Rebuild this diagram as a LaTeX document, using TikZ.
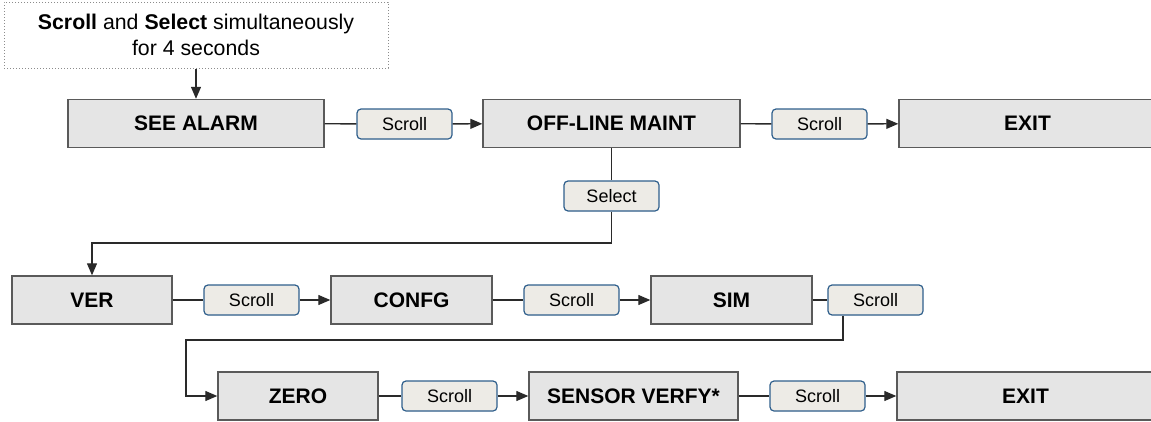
\documentclass[tikz,border=0pt]{standalone}
\usepackage{fontspec}
\setmainfont{Liberation Sans}
\usetikzlibrary{arrows.meta,calc}
\definecolor{boxfill}{HTML}{E5E5E5}
\definecolor{boxline}{HTML}{5A5A5A}
\definecolor{btnfill}{HTML}{EDEBE6}
\definecolor{btnline}{HTML}{2F5F8C}
\definecolor{btnshade}{HTML}{C9C5BB}
\definecolor{wire}{HTML}{2A2A2A}
\tikzset{
  menubox/.style={draw=boxline, fill=boxfill, line width=1.4pt, minimum height=48pt,
    inner sep=0pt, font=\fontsize{21}{24}\selectfont\bfseries},
  btn/.style={draw=btnline, fill=btnfill, line width=1.2pt, rounded corners=4pt,
    minimum width=95pt, minimum height=30pt, inner sep=0pt,
    font=\fontsize{18}{20}\selectfont,
    path picture={\fill[btnshade] ($(path picture bounding box.south west)$) rectangle ($(path picture bounding box.south east)+(0,-3pt)$);}},
  startbox/.style={draw=black!45, dotted, line width=1pt, fill=white, minimum width=384pt,
    minimum height=66pt, align=center, font=\fontsize{21.3}{26}\selectfont},
  link/.style={draw=wire, line width=1.3pt},
  arr/.style={link, -{Triangle[length=12pt,width=10pt]}}
}
\begin{document}
\begin{tikzpicture}[x=1pt,y=-1pt]
\useasboundingbox (0,0) rectangle (1151,421);
\node[startbox] (start) at (196,35) {\textbf{Scroll} and \textbf{Select} simultaneously\\for 4 seconds};
\node[menubox, minimum width=256pt] (alarm) at (196,123.5) {SEE ALARM};
\node[btn] (s1) at (404.5,124) {Scroll};
\node[menubox, minimum width=257pt] (off) at (611.5,123.5) {OFF-LINE MAINT};
\node[btn] (s2) at (819.5,124) {Scroll};
\node[menubox, minimum width=257pt] (exit1) at (1027.5,123.5) {EXIT};
\node[btn] (sel) at (611.5,196) {Select};
\node[menubox, minimum width=160pt] (ver) at (92,300) {VER};
\node[btn] (s3) at (251.5,300) {Scroll};
\node[menubox, minimum width=161pt] (confg) at (411.5,300) {CONFG};
\node[btn] (s4) at (571.5,300) {Scroll};
\node[menubox, minimum width=161pt] (sim) at (731.5,300) {SIM};
\node[btn] (s5) at (875.5,300) {Scroll};
\node[menubox, minimum width=160pt] (zero) at (298,396) {ZERO};
\node[btn] (s6) at (449.5,396) {Scroll};
\node[menubox, minimum width=209pt] (sensor) at (633.5,396) {SENSOR VERFY*};
\node[btn] (s7) at (817.5,396) {Scroll};
\node[menubox, minimum width=257pt] (exit2) at (1025.5,396) {EXIT};
\coordinate (selturn) at (611.5,243);
\coordinate (simturn) at (843,340);
\coordinate (zeroturn) at (186,340);
\draw[arr] (start) -- (alarm);
\draw[link] (alarm) -- (s1);
\draw[arr] (s1) -- (off);
\draw[link] (off) -- (s2);
\draw[arr] (s2) -- (exit1);
\draw[link] (off) -- (sel);
\draw[arr] (sel.south) -- (selturn) -| (ver.north);
\draw[link] (ver) -- (s3);
\draw[arr] (s3) -- (confg);
\draw[link] (confg) -- (s4);
\draw[arr] (s4) -- (sim);
\draw[link] (sim) -- (s5);
\draw[arr] (s5.south -| simturn) -- (simturn) -- (zeroturn) |- (zero.west);
\draw[link] (zero) -- (s6);
\draw[arr] (s6) -- (sensor);
\draw[link] (sensor) -- (s7);
\draw[arr] (s7) -- (exit2);
\end{tikzpicture}
\end{document}
